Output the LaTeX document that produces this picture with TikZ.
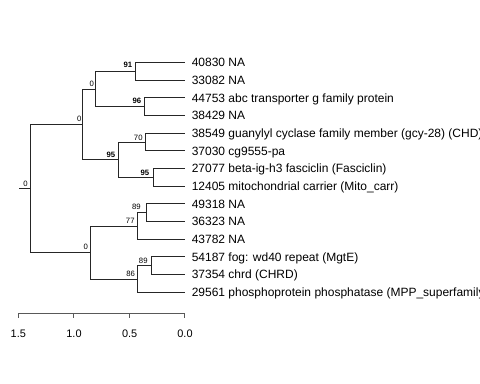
\documentclass[tikz,border=0pt]{standalone}
\usepackage{fontspec}
\setmainfont{Liberation Sans}
\begin{document}
\begin{tikzpicture}[x=0.75pt,y=-0.75pt,
  edge/.style={line width=0.75pt,black!85,line cap=rect},
  axisline/.style={line width=0.75pt,black!65},
  leaflabel/.style={anchor=west,inner sep=0pt,text height=6.4pt,text depth=0pt,font=\fontsize{9pt}{10pt}\selectfont},
  bslabel/.style={anchor=center,inner sep=0pt,text height=4.15pt,text depth=0pt,font=\fontsize{5.8pt}{7pt}\selectfont},
  bsbold/.style={bslabel,font=\fontsize{5.8pt}{7pt}\selectfont\bfseries},
  axlabel/.style={anchor=center,inner sep=0pt,text height=5.9pt,text depth=0pt,font=\fontsize{8.2pt}{9pt}\selectfont}]
\useasboundingbox (0,0) rectangle (480,384);
\clip (0,0) rectangle (480,384);
% leaf tips
\coordinate (t0) at (185,62.5);
\coordinate (t1) at (185,80.18);
\coordinate (t2) at (185,97.86);
\coordinate (t3) at (185,115.54);
\coordinate (t4) at (185,133.22);
\coordinate (t5) at (185,150.9);
\coordinate (t6) at (185,168.58);
\coordinate (t7) at (185,186.26);
\coordinate (t8) at (185,203.94);
\coordinate (t9) at (185,221.62);
\coordinate (t10) at (185,239.3);
\coordinate (t11) at (185,256.98);
\coordinate (t12) at (185,274.66);
\coordinate (t13) at (185,292.34);
% leaf labels
\node[leaflabel] (L0) at (191.5,62.5) {40830 NA};
\node[leaflabel] (L1) at (191.5,80.18) {33082 NA};
\node[leaflabel] (L2) at (191.5,97.86) {44753 abc transporter g family protein};
\node[leaflabel] (L3) at (191.5,115.54) {38429 NA};
\node[leaflabel] (L4) at (191.5,133.22) {38549 guanylyl cyclase family member (gcy-28) (CHD)};
\node[leaflabel] (L5) at (191.5,150.9) {37030 cg9555-pa};
\node[leaflabel] (L6) at (191.5,168.58) {27077 beta-ig-h3 fasciclin (Fasciclin)};
\node[leaflabel] (L7) at (191.5,186.26) {12405 mitochondrial carrier (Mito\_carr)};
\node[leaflabel] (L8) at (191.5,203.94) {49318 NA};
\node[leaflabel] (L9) at (191.5,221.62) {36323 NA};
\node[leaflabel] (L10) at (191.5,239.3) {43782 NA};
\node[leaflabel] (L11) at (191.5,256.98) {54187 fog: wd40 repeat (MgtE)};
\node[leaflabel] (L12) at (191.5,274.66) {37354 chrd (CHRD)};
\node[leaflabel] (L13) at (191.5,292.34) {29561 phosphoprotein phosphatase (MPP\_superfamily)};
% internal nodes
\coordinate (n91) at (135.3,71.34);
\coordinate (n96) at (144.3,106.7);
\coordinate (nA) at (95.7,89.02);
\coordinate (n70) at (145.7,142.06);
\coordinate (n95b) at (153.2,177.42);
\coordinate (n95a) at (118.7,159.74);
\coordinate (nB) at (83,124.38);
\coordinate (n89a) at (146.5,212.78);
\coordinate (n77) at (137.2,226.04);
\coordinate (n89b) at (151.7,265.82);
\coordinate (n86) at (137.7,279.08);
\coordinate (nC) at (90.5,252.56);
\coordinate (root) at (30.5,188.47);
\coordinate (stub) at (20,188.47);
% edges
\foreach \p/\a/\b in {n91/t0/t1, n96/t2/t3, nA/n91/n96, n70/t4/t5, n95b/t6/t7,
  n95a/n70/n95b, nB/nA/n95a, n89a/t8/t9, n77/n89a/t10, n89b/t11/t12,
  n86/n89b/t13, nC/n77/n86, root/nB/nC}
  {\draw[edge] (\a) -- (\p |- \a) -- (\p |- \b) -- (\b);}
\draw[edge] (stub) -- (root);
% support labels
\node[bsbold] (b91) at (128,64.7) {91};
\node[bslabel] (bA) at (91.7,83.3) {0};
\node[bsbold] (b96) at (137,101) {96};
\node[bslabel] (bB) at (79.3,119) {0};
\node[bslabel] (b70) at (138.3,137.3) {70};
\node[bsbold] (b95a) at (111,154.7) {95};
\node[bsbold] (b95b) at (145,172.3) {95};
\node[bslabel] (broot) at (25.5,183.3) {0};
\node[bslabel] (b89a) at (136.5,206.8) {89};
\node[bslabel] (b77) at (130.3,220.8) {77};
\node[bslabel] (bC) at (85.8,246.3) {0};
\node[bslabel] (b89b) at (143.3,261) {89};
\node[bslabel] (b86) at (130.7,274) {86};
% scale axis
\coordinate (a15) at (18.3,313.3);
\coordinate (a10) at (74,313.3);
\coordinate (a05) at (129.6,313.3);
\coordinate (a00) at (185,313.3);
\draw[axisline] (a15) -- (a00);
\foreach \c in {a15,a10,a05,a00} {\draw[axisline] (\c) -- ++(0,5);}
\node[axlabel] (x15) at (18.3,334) {1.5};
\node[axlabel] (x10) at (74,334) {1.0};
\node[axlabel] (x05) at (129.6,334) {0.5};
\node[axlabel] (x00) at (185,334) {0.0};
\end{tikzpicture}
\end{document}
